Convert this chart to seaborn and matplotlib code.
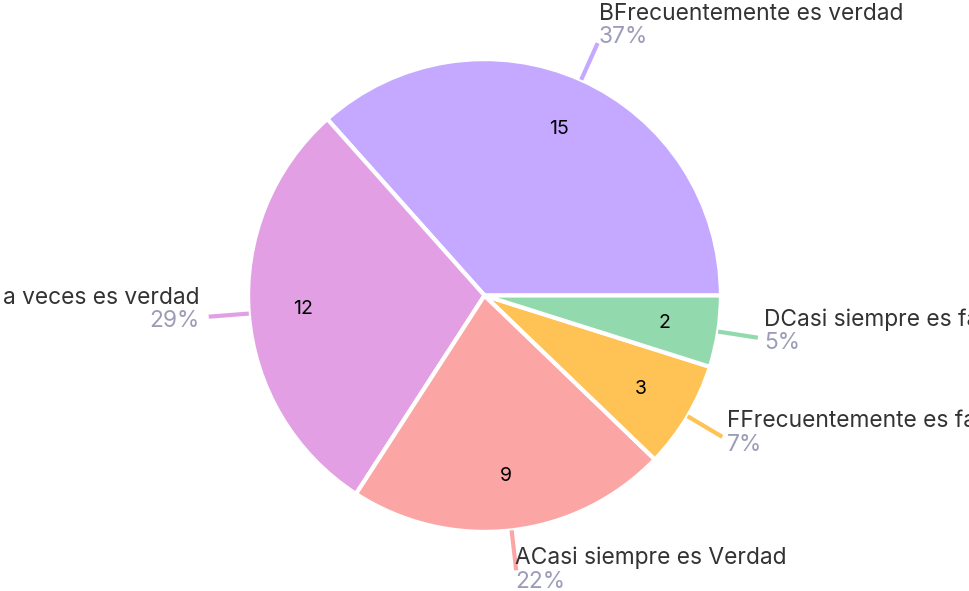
import numpy as np
import matplotlib
matplotlib.use("Agg")
import matplotlib.pyplot as plt
import seaborn as sns

# data, in drawing order (counter-clockwise from 3 o'clock)
labels = ["BFrecuentemente es verdad", "a veces es verdad", "ACasi siempre es Verdad",
          "FFrecuentemente es falso", "DCasi siempre es falso"]
counts = [15, 12, 9, 3, 2]
colors = ["#C5A8FF", "#E29FE4", "#FCA5A5", "#FFC254", "#93D9AE"]

sns.set_theme(style="white")
plt.rcParams["font.family"] = ["Inter", "DejaVu Sans"]

W, H = 969, 591
cx, cy, R = 483, 293, 232  # pixel center / radius of the pie

fig = plt.figure(figsize=(W / 100, H / 100), dpi=100)
ax = fig.add_axes([0, 0, 1, 1])
ax.set_xlim(-cx / R, (W - cx) / R)
ax.set_ylim(-(H - cy) / R, cy / R)
ax.set_aspect("equal")
ax.axis("off")

wedges, texts = ax.pie(counts, colors=colors, startangle=0, counterclock=True,
                       radius=1, wedgeprops=dict(edgecolor="white", linewidth=3))

total = sum(counts)
px = 1 / R
for w, lab, n, col in zip(wedges, labels, counts, colors):
    ang = np.deg2rad((w.theta1 + w.theta2) / 2)
    c, s = np.cos(ang), np.sin(ang)
    # value inside slice
    ax.text(0.77 * c, 0.77 * s, str(n), ha="center", va="center",
            fontsize=14, color="black")
    # leader line
    x0, y0 = 1.0 * c, 1.0 * s
    x1, y1 = 1.17 * c, 1.17 * s
    ax.plot([x0, x1], [y0, y1], color=col, lw=3, solid_capstyle="butt")
    if c >= 0:
        tx, ha = x1 + (-2 + 8 * c) * px, "left"
    else:
        tx, ha = x1 - (1 - 8 * c) * px, "right"
    pct = f"{round(100 * n / total)}%"
    yb = y1 + (13 + 11 * max(s, 0) - 7 * max(-s, 0)) * px
    ax.text(tx, yb, lab, ha=ha, va="baseline", fontsize=16.4, color="#333333")
    ax.text(tx, yb - 23 * px, pct, ha=ha, va="baseline", fontsize=16.4, color="#9C9CB8")

fig.savefig("out.png", dpi=100)
